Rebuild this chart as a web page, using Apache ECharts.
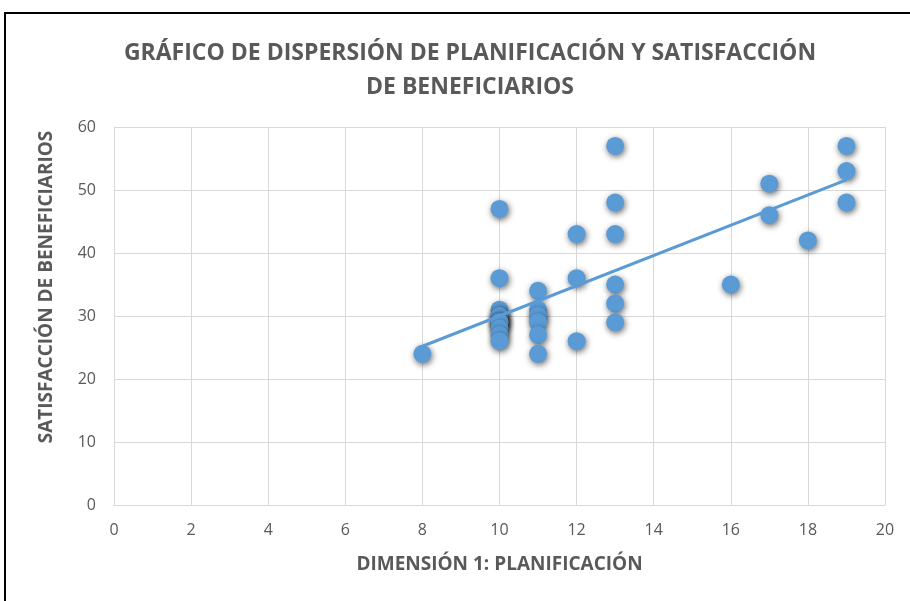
<!DOCTYPE html>
<html>
<head>
<meta charset="utf-8">
<script src="https://cdn.jsdelivr.net/npm/echarts@6/dist/echarts.min.js"></script>
<style>
  html, body { margin: 0; padding: 0; background: #fff; }
  #main { width: 910px; height: 601px; }
</style>
</head>
<body>
<div id="main"></div>
<script>
// Dimensión 1 (planificación) y satisfacción
const planificacion = [8, 10, 10, 10, 10, 10, 10, 10, 10, 10, 10, 10,
  11, 11, 11, 11, 11, 11, 12, 12, 12, 13, 13, 13, 13, 13, 13,
  16, 17, 17, 18, 19, 19, 19]
const satisfaccion = [24, 47, 36, 31, 30, 30, 29, 29, 29, 28, 27, 26,
  34, 31, 30, 29, 27, 24, 43, 36, 26, 57, 48, 43, 35, 32, 29,
  35, 51, 46, 42, 57, 53, 48]
// línea de tendencia (extremos)
const tendenciaX = [8, 19]
const tendenciaY = [25.2, 51.6]

const gris = '#595959'
const azul = '#5B9BD5'
const fuente = '"Open Sans", sans-serif'

let puntos = planificacion.map((x, i) => [x, satisfaccion[i]])
let tendencia = tendenciaX.map((x, i) => [x, tendenciaY[i]])

let myChart = echarts.init(document.getElementById('main'))
myChart.setOption({
  animation: false,
  title: {
    text: 'GRÁFICO DE DISPERSIÓN DE PLANIFICACIÓN Y SATISFACCIÓN\nDE BENEFICIARIOS',
    left: 465,
    top: 31,
    textAlign: 'center',
    textStyle: {
      color: gris,
      fontFamily: fuente,
      fontSize: 23,
      fontWeight: 'bold',
      lineHeight: 34
    }
  },
  graphic: [
    {
      // marco del gráfico
      type: 'polyline',
      shape: { points: [[5, 601], [5, 13], [910, 13]] },
      style: { stroke: '#000', lineWidth: 2, fill: null }
    },
    {
      // título del eje Y (centrado como en el original, algo más arriba)
      type: 'text',
      x: 47,
      y: 287,
      rotation: Math.PI / 2,
      style: {
        text: 'SATISFACCIÓN DE BENEFICIARIOS',
        fill: gris,
        font: 'bold 19px "Open Sans", sans-serif',
        align: 'center',
        verticalAlign: 'middle'
      }
    }
  ],
  grid: {
    left: 114,
    right: 25,
    top: 127,
    bottom: 96
  },
  xAxis: {
    type: 'value',
    min: 0,
    max: 20,
    interval: 2,
    name: 'DIMENSIÓN 1: PLANIFICACIÓN',
    nameLocation: 'middle',
    nameGap: 50,
    nameTextStyle: { color: gris, fontFamily: fuente, fontSize: 19, fontWeight: 'bold' },
    axisLine: { show: true, lineStyle: { color: '#d9d9d9', width: 1 } },
    axisTick: { show: false },
    axisLabel: { color: gris, fontFamily: fuente, fontSize: 16, margin: 17 },
    splitLine: { show: true, lineStyle: { color: '#d9d9d9' } }
  },
  yAxis: {
    type: 'value',
    min: 0,
    max: 60,
    interval: 10,
    axisLine: { show: true, lineStyle: { color: '#d9d9d9', width: 1 } },
    axisTick: { show: false },
    axisLabel: { color: gris, fontFamily: fuente, fontSize: 16, margin: 18 },
    splitLine: { show: true, lineStyle: { color: '#d9d9d9' } }
  },
  series: [
    {
      name: 'Satisfacción',
      type: 'scatter',
      data: puntos,
      symbolSize: 18,
      itemStyle: {
        color: azul,
        opacity: 1,
        shadowColor: 'rgba(0,0,0,0.6)',
        shadowBlur: 6,
        shadowOffsetX: 1,
        shadowOffsetY: 2
      },
      z: 2
    },
    {
      name: 'Tendencia',
      type: 'line',
      data: tendencia,
      symbol: 'none',
      lineStyle: { color: azul, width: 3 },
      z: 3
    }
  ]
})
</script>
</body>
</html>
